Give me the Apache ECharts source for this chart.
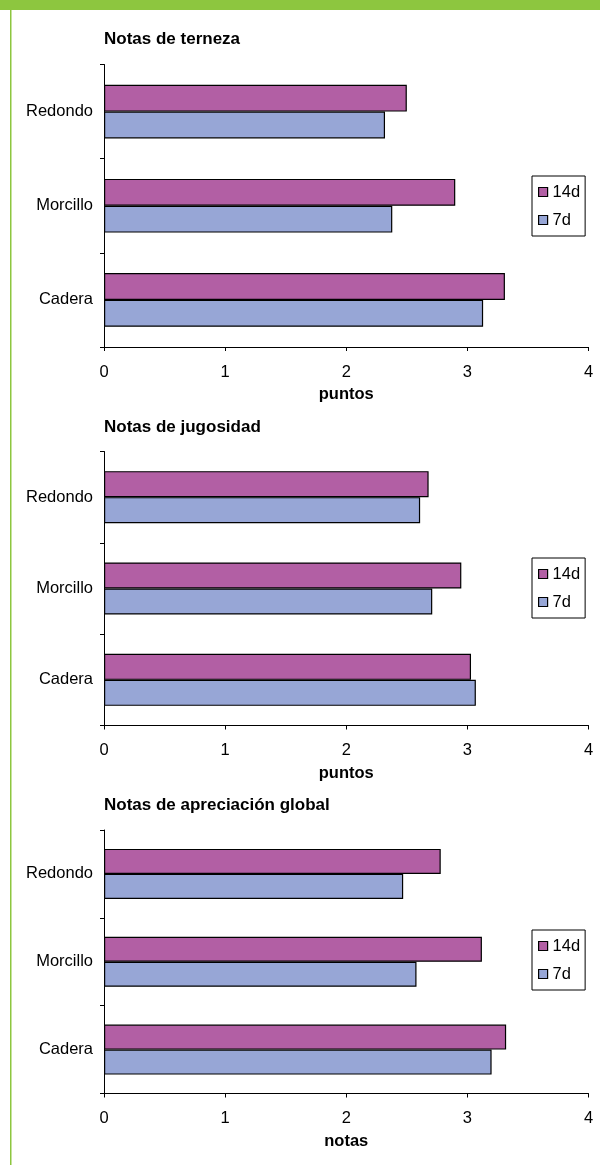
<!DOCTYPE html>
<html>
<head>
<meta charset="utf-8">
<script src="https://cdn.jsdelivr.net/npm/echarts@6/dist/echarts.min.js"></script>
<style>
  html, body { margin: 0; padding: 0; background: #fff; }
  #chart { width: 600px; height: 1165px; }
</style>
</head>
<body>
<div id="chart"></div>
<script>
// Cut names, listed bottom-to-top along the category axis
const categories = ['Cadera', 'Morcillo', 'Redondo'];
const seriesNames = ['14d', '7d'];
const xTicks = [0, 1, 2, 3, 4];

// Tenderness scores
const terneza14d = [3.31, 2.90, 2.50];
const terneza7d = [3.13, 2.38, 2.32];
// Juiciness scores
const jugosidad14d = [3.03, 2.95, 2.68];
const jugosidad7d = [3.07, 2.71, 2.61];
// Overall appreciation scores
const global14d = [3.32, 3.12, 2.78];
const global7d = [3.20, 2.58, 2.47];

const panels = [
  { title: 'Notas de terneza', unit: 'puntos', a: terneza14d, b: terneza7d,
    top: 64.5, height: 282.5, titleY: 31, legendY: 176 },
  { title: 'Notas de jugosidad', unit: 'puntos', a: jugosidad14d, b: jugosidad7d,
    top: 451.5, height: 274, titleY: 418.5, legendY: 558 },
  { title: 'Notas de apreciación global', unit: 'notas', a: global14d, b: global7d,
    top: 830, height: 263.5, titleY: 796.5, legendY: 930 }
];

const FONT = 'Liberation Sans, Arial, sans-serif';
const LABEL_SIZE = 16.5;
const colors = ['#B25FA4', '#97A6D6'];
const green = '#8DC63F';

const grids = [], xAxes = [], yAxes = [], series = [], titles = [], legends = [];

panels.forEach((p, i) => {
  grids.push({ left: 104, right: 11.5, top: p.top, height: p.height, containLabel: false });
  xAxes.push({
    type: 'value', gridIndex: i, min: xTicks[0], max: xTicks[xTicks.length - 1], interval: 1,
    name: p.unit, nameLocation: 'middle', nameGap: 39,
    nameTextStyle: { color: '#000', fontSize: LABEL_SIZE, fontWeight: 'bold', fontFamily: FONT },
    axisLine: { show: true, lineStyle: { color: '#000', width: 1 } },
    axisTick: { show: true, length: 4, lineStyle: { color: '#000' } },
    axisLabel: { color: '#000', fontSize: LABEL_SIZE, fontFamily: FONT, margin: 16.5 },
    splitLine: { show: false }
  });
  yAxes.push({
    type: 'category', gridIndex: i, data: categories,
    axisLine: { show: true, lineStyle: { color: '#000', width: 1 } },
    axisTick: { show: true, length: 4, lineStyle: { color: '#000' } },
    axisLabel: { color: '#000', fontSize: LABEL_SIZE, fontFamily: FONT, margin: 11 }
  });
  [p.a, p.b].forEach((vals, k) => {
    series.push({
      type: 'bar', name: seriesNames[k], xAxisIndex: i, yAxisIndex: i,
      data: vals, barGap: '0%', barCategoryGap: '43%',
      itemStyle: { color: colors[k], borderColor: '#000', borderWidth: 1.2 },
      emphasis: { disabled: true }, animation: false
    });
  });
  titles.push({
    text: p.title, left: 104, top: p.titleY, padding: 0,
    textStyle: { color: '#000', fontSize: 17, fontWeight: 'bold', fontFamily: FONT }
  });
  legends.push({
    data: seriesNames, orient: 'vertical', left: 532, top: p.legendY,
    padding: [7.5, 5, 7.5, 6], itemGap: 11, itemWidth: 9, itemHeight: 9,
    icon: 'rect', backgroundColor: '#fff', borderColor: '#000', borderWidth: 1,
    borderRadius: 0, selectedMode: false,
    itemStyle: { borderColor: '#000', borderWidth: 1.2 },
    textStyle: { color: '#000', fontSize: LABEL_SIZE, fontFamily: FONT }
  });
});

const chart = echarts.init(document.getElementById('chart'), null, { renderer: 'canvas' });
chart.setOption({
  backgroundColor: '#fff',
  animation: false,
  color: colors,
  title: titles,
  legend: legends,
  grid: grids,
  xAxis: xAxes,
  yAxis: yAxes,
  series: series,
  graphic: [
    { type: 'rect', shape: { x: 0, y: 0, width: 600, height: 10 }, style: { fill: green }, silent: true },
    { type: 'rect', shape: { x: 10, y: 10, width: 1.5, height: 1155 }, style: { fill: green }, silent: true }
  ]
});
</script>
</body>
</html>
